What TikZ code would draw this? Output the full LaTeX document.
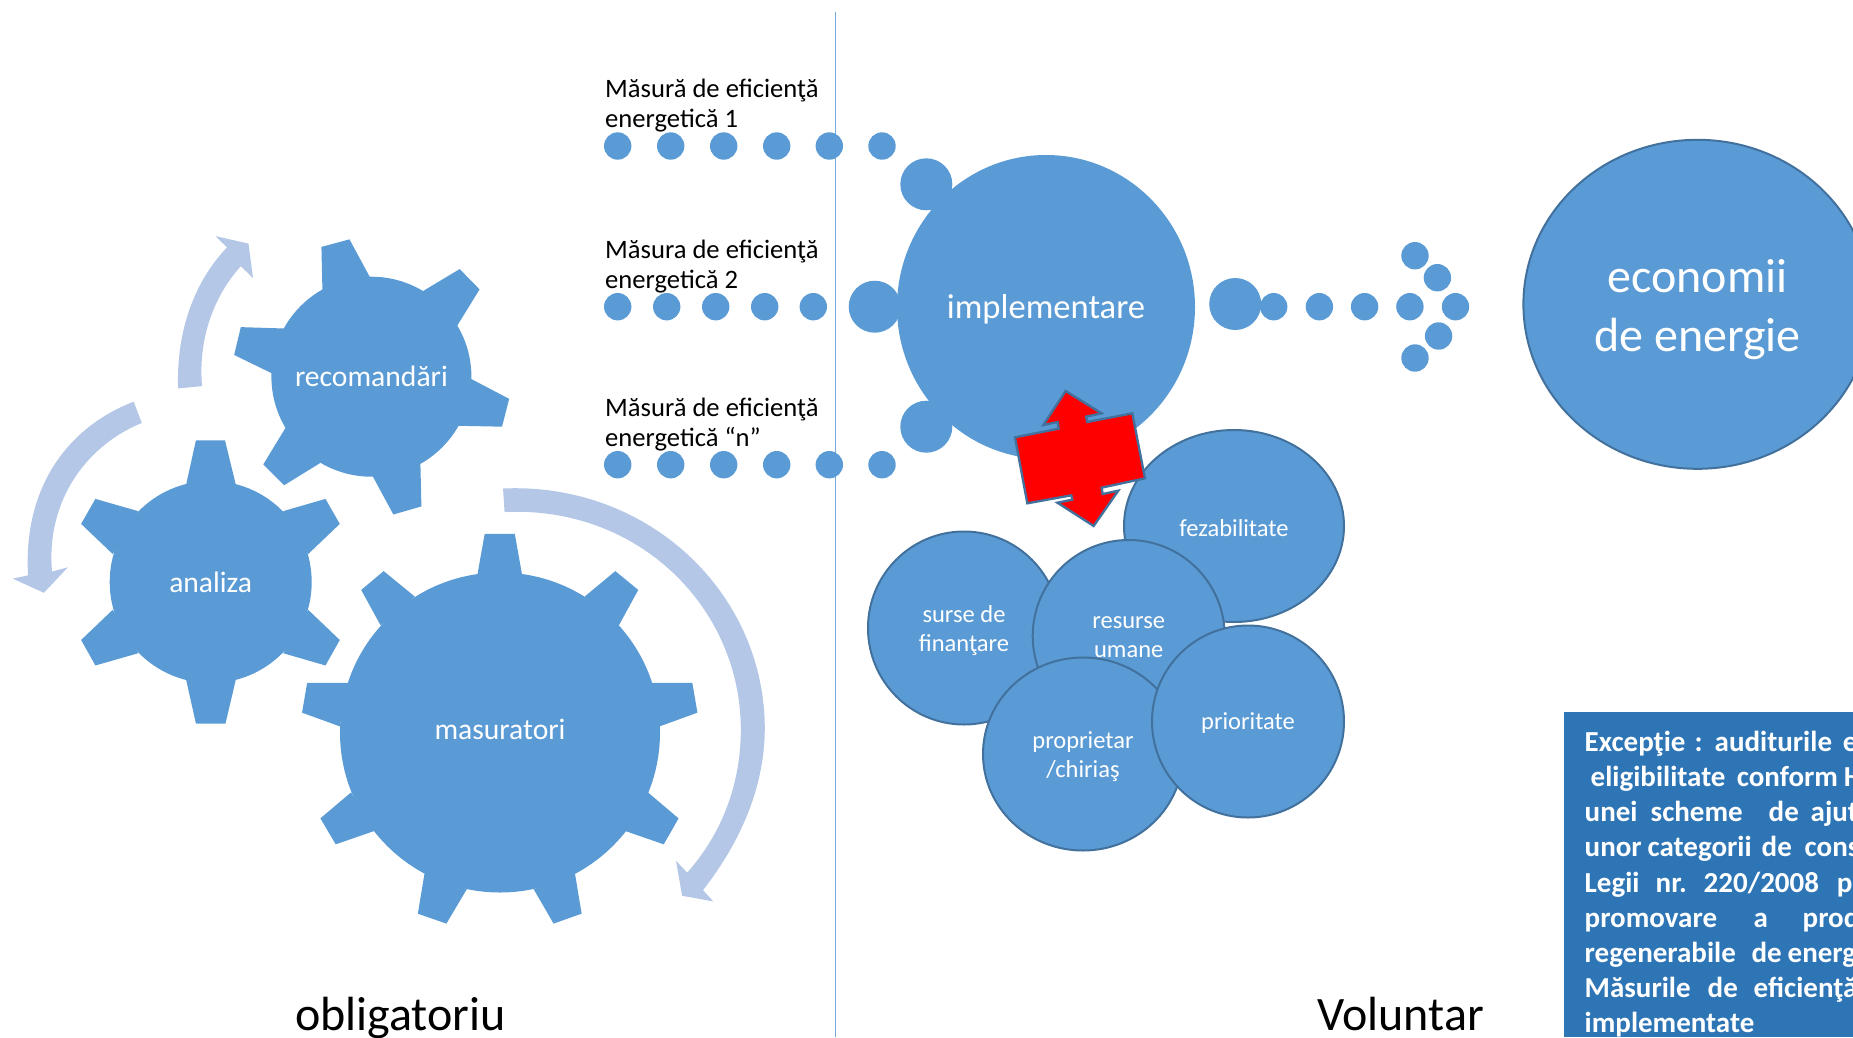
\documentclass[tikz,border=0pt]{standalone}
\usepackage{fontspec}
\setmainfont{Carlito}
\usetikzlibrary{shapes.geometric}
\definecolor{mainblue}{HTML}{5B9BD5}
\definecolor{edgeblue}{HTML}{41719C}
\definecolor{lightblue}{HTML}{B4C7E7}
\definecolor{boxblue}{HTML}{2E75B6}
\newcommand{\W}[2]{\rlap{\hspace{#1pt}#2}}
\tikzset{
  x=1pt,y=-1pt,
  dot/.style={circle,fill=mainblue,inner sep=0pt,minimum size=27.4pt},
  bigdot/.style={circle,fill=mainblue,inner sep=0pt,minimum size=52pt},
  gearbody/.style={circle,fill=mainblue,inner sep=0pt,text=white,font=\fontsize{29.6}{30}\selectfont},
  tooth/.style={fill=mainblue},
  turn/.style={fill=lightblue},
  bubble/.style={ellipse,fill=mainblue,draw=edgeblue,line width=2pt,inner sep=0pt},
  bubbletxt/.style={inner sep=0pt,text=white,align=center,font=\fontsize{24.5}{29}\selectfont,yshift=-1.6pt},
  lab/.style={anchor=base west,inner sep=0pt,align=left,text=black,font=\fontsize{26.6}{30}\selectfont},
  bigtitle/.style={anchor=base,inner sep=0pt,text=black,font=\fontsize{48}{48}\selectfont},
  boxline/.style={anchor=base west,inner sep=0pt,text=white,font=\fontsize{29}{29}\selectfont\bfseries},
}
\begin{document}
\begin{tikzpicture}
\useasboundingbox (0,0) rectangle (1853,1037);
\clip (0,0) rectangle (1853,1037);
% divider
\coordinate (lineTop) at (835,12);
\coordinate (lineBot) at (835,1037);
\draw[mainblue!85!white,line width=1pt] (lineTop) -- (lineBot);
% gears and turning arrows traced in crop units
\begin{scope}[shift={(0,220)},x=0.5102pt,y=-0.4719pt]
 \fill[turn] (349,357) .. controls (345,220) and (390,120) .. (445,58) -- (422,34) -- (487,50) -- (496,123) -- (472,98) .. controls (420,160) and (388,250) .. (396,352) -- cycle;
 \fill[turn] (262,385) .. controls (130,440) and (45,570) .. (55,753) -- (25,760) -- (86,790) -- (133,736) -- (102,745) .. controls (90,600) and (165,480) .. (278,430) -- cycle;
 \fill[turn] (986,569) .. controls (1270,555) and (1500,790) .. (1499,1080) .. controls (1498,1205) and (1450,1320) .. (1378,1420) -- (1398,1444) -- (1337,1432) -- (1325,1358) -- (1347,1383) .. controls (1415,1300) and (1452,1195) .. (1452,1080) .. controls (1452,820) and (1250,605) .. (989,619) -- cycle;
 \foreach \p in {
  % recomandari teeth
  {(632,150) -- (630,57) -- (685,41) -- (726,123)},
  {(827,152) -- (901,104) -- (940,147) -- (895,226)},
  {(922,336) -- (998,379) -- (984,438) -- (897,436)},
  {(824,516) -- (826,607) -- (771,624) -- (730,542)},
  {(629,514) -- (557,562) -- (516,518) -- (561,438)},
  {(533,325) -- (459,286) -- (472,227) -- (560,230)},
  % analiza teeth
  {(365,560) -- (384,467) -- (441,467) -- (462,560)},
  {(555,617) -- (638,591) -- (666,644) -- (604,708)},
  {(604,826) -- (666,890) -- (638,944) -- (555,918)},
  {(462,975) -- (442,1067) -- (384,1067) -- (365,975)},
  {(271,918) -- (187,944) -- (159,890) -- (221,826)},
  {(221,708) -- (159,644) -- (187,591) -- (271,617)},
  % masuratori teeth
  {(936,750) -- (950,665) -- (1009,665) -- (1023,750)},
  {(1146,798) -- (1206,744) -- (1251,784) -- (1213,859)},
  {(1277,981) -- (1357,981) -- (1367,1044) -- (1293,1073)},
  {(1270,1213) -- (1330,1268) -- (1301,1323) -- (1226,1295)},
  {(1127,1385) -- (1140,1470) -- (1085,1491) -- (1046,1418)},
  {(915,1418) -- (875,1491) -- (819,1470) -- (832,1385)},
  {(733,1295) -- (658,1323) -- (628,1268) -- (688,1213)},
  {(666,1073) -- (592,1044) -- (602,981) -- (682,981)},
  {(746,859) -- (708,784) -- (752,744) -- (813,798)}}
  {\expandafter\fill\expandafter[\expandafter t\expandafter o\expandafter o\expandafter t\expandafter h\expandafter]\p -- cycle;}
\end{scope}
\node[gearbody,minimum size=200pt] (recomandari) at (371.4,376.7) {recomandări};
\node[gearbody,minimum size=202pt] (analiza) at (210.7,582) {analiza};
\node[gearbody,minimum size=320pt] (masuratori) at (500,732.5) {\raisebox{5.5pt}{masuratori}};
% labels
\node[lab] (m1) at (605,127.7) {Măsură de eficienţă\\energetică 1};
\node[lab] (m2) at (605,288.3) {Măsura de eficienţă\\energetică 2};
\node[lab] (m3) at (605,446) {Măsură de eficienţă\\energetică “n”};
% dotted rows
\foreach \i/\x in {1/617.7,2/670.7,3/723.7,4/776.7,5/829.3,6/882}{
  \node[dot] (ra\i) at (\x,146) {};
  \node[dot] (rc\i) at (\x,464.7) {};
}
\foreach \i/\x in {1/617.7,2/666.7,3/715.7,4/764.7,5/813.3}{
  \node[dot] (rb\i) at (\x,306.7) {};
}
\node[bigdot] (ba) at (926.3,184.3) {};
\node[bigdot] (bb) at (874.7,306.7) {};
\node[bigdot] (bc) at (926.3,426.7) {};
\node[ellipse,fill=mainblue,inner sep=0pt,minimum width=298pt,minimum height=304pt,label={[name=implT,inner sep=0pt,text=white,font=\fontsize{34.6}{36}\selectfont,yshift=-2.5pt]center:implementare}] (impl) at (1046,307) {};
% out arrow
\node[bigdot] (bd) at (1235.2,304) {};
\foreach \i/\x/\y in {1/1273.7/306.7,2/1319.4/306.7,3/1364.6/306.7,4/1409.9/306.7,5/1455.5/306.7,6/1415/255.7,7/1437.4/277.7,8/1438.6/336,9/1415/358}{
  \node[dot] (o\i) at (\x,\y) {};
}
\node[bubble,minimum width=348pt,minimum height=329pt,label={[name=econT,inner sep=0pt,text=white,align=center,font=\fontsize{48}{59}\selectfont,yshift=-5pt]center:{economii\\de energie}}] (econ) at (1697.4,304.3) {};
% bubbles
\node[bubble,minimum width=220pt,minimum height=192pt,label={[name=fezT,bubbletxt]center:fezabilitate}] (fez) at (1234,526) {};
\node[bubble,minimum width=192pt,minimum height=193pt,label={[name=surseT,bubbletxt,yshift=-1pt]center:{surse de\\finanţare}}] (surse) at (964,628) {};
\node[bubble,minimum width=192pt,minimum height=192pt,label={[name=resT,bubbletxt]center:{resurse\\umane}}] (resurse) at (1128.7,636) {};
\node[bubble,minimum width=200pt,minimum height=193pt,label={[name=propT,bubbletxt,yshift=-1pt]center:{proprietar\\/chiriaş}}] (prop) at (1083,754) {};
\node[bubble,minimum width=192pt,minimum height=192pt,label={[name=prioT,bubbletxt]center:prioritate}] (prio) at (1248,721.5) {};
% red double arrow callout
\begin{scope}[shift={(850,380)},x=0.3333pt,y=-0.3333pt]
 \draw[fill=red,draw=edgeblue,line width=2.3pt,miter limit=10] (647,33) -- (755,100) -- (708,110) -- (712,126) -- (847,100) -- (885,295) -- (755,323) -- (758,342) -- (805,332) -- (731,438) -- (622,368) -- (667,359) -- (664,346) -- (532,370) -- (495,172) -- (626,146) -- (623,126) -- (580,135) -- cycle;
\end{scope}
% titles
\node[bigtitle] (obl) at (400.5,1030.5) {obligatoriu};
\node[bigtitle] (vol) at (1400.5,1030.5) {Voluntar};
% note box
\fill[boxblue] (1564,712) rectangle (1853,1037);
\node[boxline] (t1) at (1584,751) {\W{0}{Excepţie}\W{110}{:}\W{130}{auditurile}\W{258}{e}};
\node[boxline] (t2) at (1584,786) {\W{6}{eligibilitate}\W{152}{conform}\W{259}{H}};
\node[boxline] (t3) at (1584,821.7) {\W{0}{unei}\W{66}{scheme}\W{184}{de}\W{226}{ajut}};
\node[boxline] (t4) at (1584,856.7) {\W{0}{unor}\W{63}{categorii}\W{177}{de}\W{220}{cons}};
\node[boxline] (t5) at (1584,892) {\W{0}{Legii}\W{71}{nr.}\W{119}{220/2008}\W{252}{p}};
\node[boxline] (t6) at (1584,927) {\W{0}{promovare}\W{169}{a}\W{218}{prod}};
\node[boxline] (t7) at (1584,962) {\W{0}{regenerabile}\W{167}{de}\W{203}{energ}};
\node[boxline] (t8) at (1584,997.7) {\W{0}{Măsurile}\W{123}{de}\W{169}{eficienţă}};
\node[boxline] (t9) at (1584,1032.7) {\W{0}{implementate}};
\end{tikzpicture}
\end{document}
